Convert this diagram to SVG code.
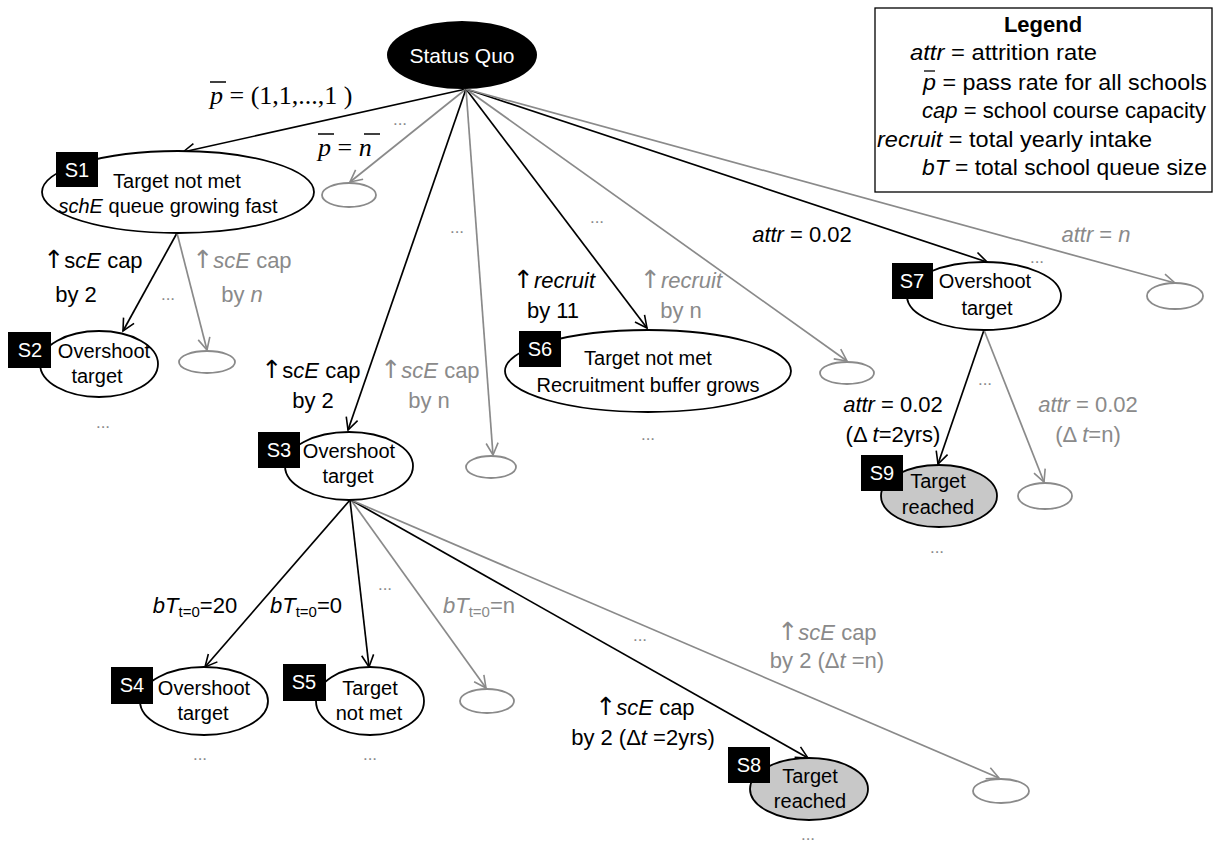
<svg xmlns="http://www.w3.org/2000/svg" width="1215" height="844" viewBox="0 0 1215 844">
<defs>
<marker id="ab" markerUnits="userSpaceOnUse" markerWidth="16" markerHeight="16" refX="13" refY="7" orient="auto"><path d="M1,1 L13,7 L1,13" fill="none" stroke="#000" stroke-width="1.6"/></marker>
<marker id="ag" markerUnits="userSpaceOnUse" markerWidth="16" markerHeight="16" refX="13" refY="7" orient="auto"><path d="M1,1 L13,7 L1,13" fill="none" stroke="#8a8a8a" stroke-width="1.6"/></marker>
</defs>
<style>
text{font-family:"Liberation Sans",Arial,sans-serif;}
.eb{stroke:#000;stroke-width:1.7;fill:none;marker-end:url(#ab);}
.eg{stroke:#8a8a8a;stroke-width:1.7;fill:none;marker-end:url(#ag);}
.node{fill:#fff;stroke:#000;stroke-width:1.8;}
.reach{fill:#c8c8c8;stroke:#000;stroke-width:1.8;}
.leaf{fill:#fff;stroke:#8a8a8a;stroke-width:1.8;}
.box{fill:#000;}
.bl{fill:#fff;font-size:20px;text-anchor:middle;}
.nt{font-size:20px;text-anchor:middle;fill:#000;}
.lb{font-size:22px;text-anchor:middle;fill:#000;}
.lg{font-size:22px;text-anchor:middle;fill:#8a8a8a;}
.ar{font-family:"DejaVu Sans",sans-serif;font-size:25px;font-weight:normal;}
.dots{font-size:17px;text-anchor:middle;fill:#8a8a8a;}
.lgd{font-size:22px;fill:#000;}
.it{font-style:italic;}
.serif{font-family:"Liberation Serif","Times New Roman",serif;font-size:26px;fill:#000;}
.bar{stroke:#000;stroke-width:1.5;}
</style>

<g id="connectors">
<line class="eb" x1="466" y1="89" x2="183" y2="152"/>
<line class="eg" x1="466" y1="89" x2="350" y2="182"/>
<line class="eb" x1="466" y1="89" x2="348" y2="430"/>
<line class="eg" x1="466" y1="89" x2="493" y2="455"/>
<line class="eb" x1="466" y1="89" x2="647" y2="328"/>
<line class="eg" x1="466" y1="89" x2="847" y2="361"/>
<line class="eb" x1="466" y1="89" x2="987" y2="262"/>
<line class="eg" x1="466" y1="89" x2="1175" y2="283"/>
<line class="eb" x1="177" y1="233" x2="123" y2="331"/>
<line class="eg" x1="177" y1="233" x2="207" y2="350"/>
<line class="eb" x1="350" y1="500" x2="205" y2="667"/>
<line class="eb" x1="350" y1="500" x2="369" y2="667"/>
<line class="eg" x1="351" y1="500" x2="486" y2="688"/>
<line class="eb" x1="351" y1="500" x2="808" y2="758"/>
<line class="eg" x1="351" y1="500" x2="999" y2="778"/>
<line class="eb" x1="984" y1="330" x2="938" y2="464"/>
<line class="eg" x1="984" y1="330" x2="1044" y2="482"/>
</g>

<g id="edge-labels">
<text class="serif" x="210" y="104"><tspan font-style="italic">p</tspan> = (1,1,...,1 )</text>
<line class="bar" x1="210" y1="82" x2="226" y2="82"/>
<text class="serif" x="318" y="156"><tspan font-style="italic">p</tspan> = <tspan font-style="italic">n</tspan></text>
<line class="bar" x1="318" y1="134" x2="334" y2="134"/>
<line class="bar" x1="364" y1="134" x2="380" y2="134"/>
<text class="dots" x="400" y="125">...</text>

<text class="lb" x="93" y="268"><tspan class="ar">↑</tspan>s<tspan class="it">cE</tspan> cap</text>
<text class="lb" x="76" y="302">by 2</text>
<text class="dots" x="168" y="300">...</text>
<text class="lg" x="242" y="268"><tspan class="ar">↑</tspan><tspan class="it">scE</tspan> cap</text>
<text class="lg" x="242" y="302">by <tspan class="it">n</tspan></text>

<text class="lb" x="311" y="378"><tspan class="ar">↑</tspan>s<tspan class="it">cE</tspan> cap</text>
<text class="lb" x="313" y="408">by 2</text>
<text class="lg" x="430" y="378"><tspan class="ar">↑</tspan><tspan class="it">scE</tspan> cap</text>
<text class="lg" x="429" y="408">by n</text>
<text class="dots" x="457" y="233">...</text>

<text class="lb" x="554" y="288"><tspan class="ar">↑</tspan><tspan class="it">recruit</tspan></text>
<text class="lb" x="553" y="318">by 11</text>
<text class="lg" x="681" y="288"><tspan class="ar">↑</tspan><tspan class="it">recruit</tspan></text>
<text class="lg" x="681" y="318">by n</text>
<text class="dots" x="597" y="223">...</text>

<text class="lb" x="802" y="242"><tspan class="it">attr</tspan> = 0.02</text>
<text class="lg" x="1096" y="242"><tspan class="it">attr</tspan> = <tspan class="it">n</tspan></text>
<text class="dots" x="1037" y="263">...</text>

<text class="lb" x="195" y="613"><tspan class="it">bT</tspan><tspan font-size="15" dy="4">t=0</tspan><tspan dy="-4">=20</tspan></text>
<text class="lb" x="306" y="613"><tspan class="it">bT</tspan><tspan font-size="15" dy="4">t=0</tspan><tspan dy="-4">=0</tspan></text>
<text class="lg" x="479" y="613"><tspan class="it">bT</tspan><tspan font-size="15" dy="4">t=0</tspan><tspan dy="-4">=n</tspan></text>
<text class="dots" x="385" y="590">...</text>
<text class="dots" x="640" y="641">...</text>

<text class="lg" x="827" y="640"><tspan class="ar">↑</tspan><tspan class="it">scE</tspan> cap</text>
<text class="lg" x="827" y="668">by 2 (Δ<tspan class="it">t</tspan> =n)</text>
<text class="lb" x="645" y="715"><tspan class="ar">↑</tspan><tspan class="it">scE</tspan> cap</text>
<text class="lb" x="643" y="745">by 2 (Δ<tspan class="it">t</tspan> =2yrs)</text>

<text class="lb" x="893" y="412"><tspan class="it">attr</tspan> = 0.02</text>
<text class="lb" x="893" y="442">(Δ <tspan class="it">t</tspan>=2yrs)</text>
<text class="lg" x="1088" y="412"><tspan class="it">attr</tspan> = 0.02</text>
<text class="lg" x="1088" y="442">(Δ <tspan class="it">t</tspan>=n)</text>
<text class="dots" x="985" y="385">...</text>
</g>

<g id="status-quo">
<ellipse cx="462" cy="55" rx="75" ry="34" fill="#000"/>
<text x="462" y="63" fill="#fff" font-size="21" text-anchor="middle">Status Quo</text>
</g>

<g id="S1">
<ellipse class="node" cx="178" cy="192" rx="136" ry="41"/>
<rect class="box" x="56" y="152" width="42" height="35"/>
<text class="bl" x="77" y="177">S1</text>
<text class="nt" x="177" y="188">Target not met</text>
<text class="nt" x="168" y="213"><tspan class="it">schE</tspan> queue growing fast</text>
</g>

<g id="S2">
<ellipse class="node" cx="99" cy="364" rx="59" ry="33"/>
<rect class="box" x="8" y="332" width="43" height="36"/>
<text class="bl" x="30" y="357">S2</text>
<text class="nt" x="104" y="358">Overshoot</text>
<text class="nt" x="97" y="383">target</text>
<text class="dots" x="103" y="428">...</text>
</g>

<g id="S3">
<ellipse class="node" cx="349" cy="466" rx="64" ry="34"/>
<rect class="box" x="258" y="432" width="42" height="36"/>
<text class="bl" x="279" y="457">S3</text>
<text class="nt" x="349" y="458">Overshoot</text>
<text class="nt" x="348" y="483">target</text>
</g>

<g id="S4">
<ellipse class="node" cx="204" cy="701" rx="64" ry="34"/>
<rect class="box" x="111" y="667" width="42" height="37"/>
<text class="bl" x="132" y="692">S4</text>
<text class="nt" x="204" y="695">Overshoot</text>
<text class="nt" x="203" y="720">target</text>
<text class="dots" x="200" y="760">...</text>
</g>

<g id="S5">
<ellipse class="node" cx="370" cy="701" rx="54" ry="34"/>
<rect class="box" x="283" y="664" width="43" height="37"/>
<text class="bl" x="304" y="689">S5</text>
<text class="nt" x="370" y="695">Target</text>
<text class="nt" x="369" y="720">not met</text>
<text class="dots" x="370" y="760">...</text>
</g>

<g id="S6">
<ellipse class="node" cx="648" cy="371" rx="143" ry="41"/>
<rect class="box" x="519" y="331" width="42" height="36"/>
<text class="bl" x="540" y="356">S6</text>
<text class="nt" x="648" y="365">Target not met</text>
<text class="nt" x="648" y="392">Recruitment buffer grows</text>
<text class="dots" x="648" y="440">...</text>
</g>

<g id="S7">
<ellipse class="node" cx="984" cy="296" rx="77" ry="34"/>
<rect class="box" x="892" y="263" width="41" height="36"/>
<text class="bl" x="912" y="288">S7</text>
<text class="nt" x="985" y="288">Overshoot</text>
<text class="nt" x="987" y="315">target</text>
</g>

<g id="S8">
<ellipse class="reach" cx="809" cy="789" rx="59" ry="31"/>
<rect class="box" x="728" y="747" width="42" height="36"/>
<text class="bl" x="749" y="772">S8</text>
<text class="nt" x="810" y="783">Target</text>
<text class="nt" x="810" y="808">reached</text>
<text class="dots" x="808" y="840">...</text>
</g>

<g id="S9">
<ellipse class="reach" cx="939" cy="496" rx="58" ry="31"/>
<rect class="box" x="861" y="455" width="42" height="36"/>
<text class="bl" x="882" y="480">S9</text>
<text class="nt" x="938" y="488">Target</text>
<text class="nt" x="938" y="514">reached</text>
<text class="dots" x="937" y="553">...</text>
</g>

<g id="leaves">
<ellipse class="leaf" cx="349" cy="195" rx="27" ry="12"/>
<ellipse class="leaf" cx="207" cy="362" rx="28" ry="11"/>
<ellipse class="leaf" cx="491" cy="467" rx="25" ry="11"/>
<ellipse class="leaf" cx="847" cy="373" rx="27" ry="11"/>
<ellipse class="leaf" cx="1175" cy="296" rx="28" ry="13"/>
<ellipse class="leaf" cx="487" cy="701" rx="27" ry="12"/>
<ellipse class="leaf" cx="1001" cy="791" rx="28" ry="12"/>
<ellipse class="leaf" cx="1045" cy="496" rx="27" ry="13"/>
</g>

<g id="legend">
<rect x="875" y="8" width="337" height="184" fill="#fff" stroke="#000" stroke-width="1.3"/>
<text class="lgd" x="1043" y="32" text-anchor="middle" font-weight="bold">Legend</text>
<text class="lgd" x="910" y="60" textLength="187" lengthAdjust="spacingAndGlyphs"><tspan class="it">attr</tspan> = attrition rate</text>
<text class="lgd" x="923" y="90" textLength="284" lengthAdjust="spacingAndGlyphs"><tspan class="it">p</tspan> = pass rate for all schools</text>
<line x1="924" y1="71" x2="935" y2="71" stroke="#000" stroke-width="1.3"/>
<text class="lgd" x="922" y="118" textLength="284" lengthAdjust="spacingAndGlyphs"><tspan class="it">cap</tspan> = school course capacity</text>
<text class="lgd" x="877" y="147" textLength="275" lengthAdjust="spacingAndGlyphs"><tspan class="it">recruit</tspan> = total yearly intake</text>
<text class="lgd" x="922" y="175" textLength="285" lengthAdjust="spacingAndGlyphs"><tspan class="it">bT</tspan> = total school queue size</text>
</g>
</svg>
